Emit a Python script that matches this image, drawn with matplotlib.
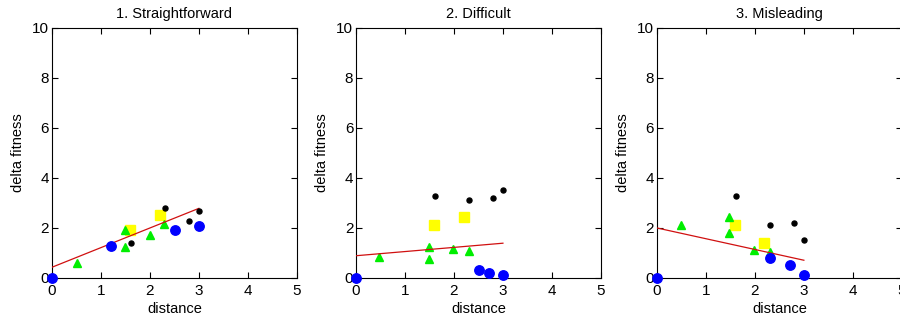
import numpy as np
import matplotlib
matplotlib.use('Agg')
import matplotlib.pyplot as plt

plt.rcParams['font.family'] = ['Liberation Sans', 'DejaVu Sans']
plt.rcParams['font.size'] = 10.5

titles = ['1. Straightforward', '2. Difficult', '3. Misleading']

# blue circles
blue_x = [[0, 1.2, 2.52, 3.0], [0, 2.52, 2.72, 3.0], [0, 2.31, 2.71, 3.0]]
blue_y = [[0, 1.28, 1.9, 2.09], [0, 0.31, 0.2, 0.12], [0, 0.79, 0.51, 0.12]]
# black dots
black_x = [[1.61, 2.3, 2.79, 3.0], [1.61, 2.31, 2.8, 3.0], [1.61, 2.3, 2.79, 3.0]]
black_y = [[1.39, 2.79, 2.29, 2.69], [3.28, 3.1, 3.2, 3.5], [3.28, 2.11, 2.2, 1.52]]
# yellow squares
yellow_x = [[1.6, 2.2], [1.6, 2.2], [1.59, 2.19]]
yellow_y = [[1.9, 2.52], [2.1, 2.44], [2.1, 1.41]]
# green triangles
green_x = [[0.5, 1.49, 1.49, 2.0, 2.29], [0.47, 1.48, 1.48, 1.99, 2.3], [0.48, 1.48, 1.48, 1.99, 2.3]]
green_y = [[0.59, 1.9, 1.24, 1.73, 2.15], [0.84, 1.24, 0.75, 1.15, 1.07], [2.13, 2.45, 1.81, 1.13, 1.05]]
# fitted line: intercept, slope
fit_b = [0.43, 0.89, 2.0]
fit_m = [0.785, 0.167, -0.43]

fig = plt.figure(figsize=(9, 3.21), dpi=100)
lefts = [0.0578, 0.3956, 0.73]
for i in range(3):
    ax = fig.add_axes([lefts[i], 0.134, 0.272, 0.779])
    allx = blue_x[i] + black_x[i] + yellow_x[i] + green_x[i]
    xf = np.array([min(allx), max(allx)])
    ax.plot(xf, fit_b[i] + fit_m[i] * xf, color='#d01010', lw=0.9, zorder=3)
    ax.plot(black_x[i], black_y[i], 'o', color='black', ms=3.6, zorder=4)
    ax.plot(yellow_x[i], yellow_y[i], 's', color='#ffff00', ms=6.5, mec='#ffff00', zorder=2)
    ax.plot(green_x[i], green_y[i], '^', color='#00ee00', ms=6.2, mec='#00ee00', zorder=2)
    ax.plot(blue_x[i], blue_y[i], 'o', color='#0000ff', ms=6.8, zorder=5, clip_on=False)
    ax.set_xlim(0, 5)
    ax.set_ylim(0, 10)
    ax.set_xticks(range(6))
    ax.set_yticks(range(0, 11, 2))
    ax.tick_params(direction='in', length=4, width=0.8, top=True, right=True, pad=2)
    ax.tick_params(axis='x', pad=4)
    ax.tick_params(labelsize=11)
    for s in ax.spines.values():
        s.set_linewidth(0.8)
    ax.set_title(titles[i], fontsize=10.5, pad=7)
    ax.set_xlabel('distance', labelpad=3)
    ax.set_ylabel('delta fitness', labelpad=5)

fig.savefig('out.png', dpi=100)
